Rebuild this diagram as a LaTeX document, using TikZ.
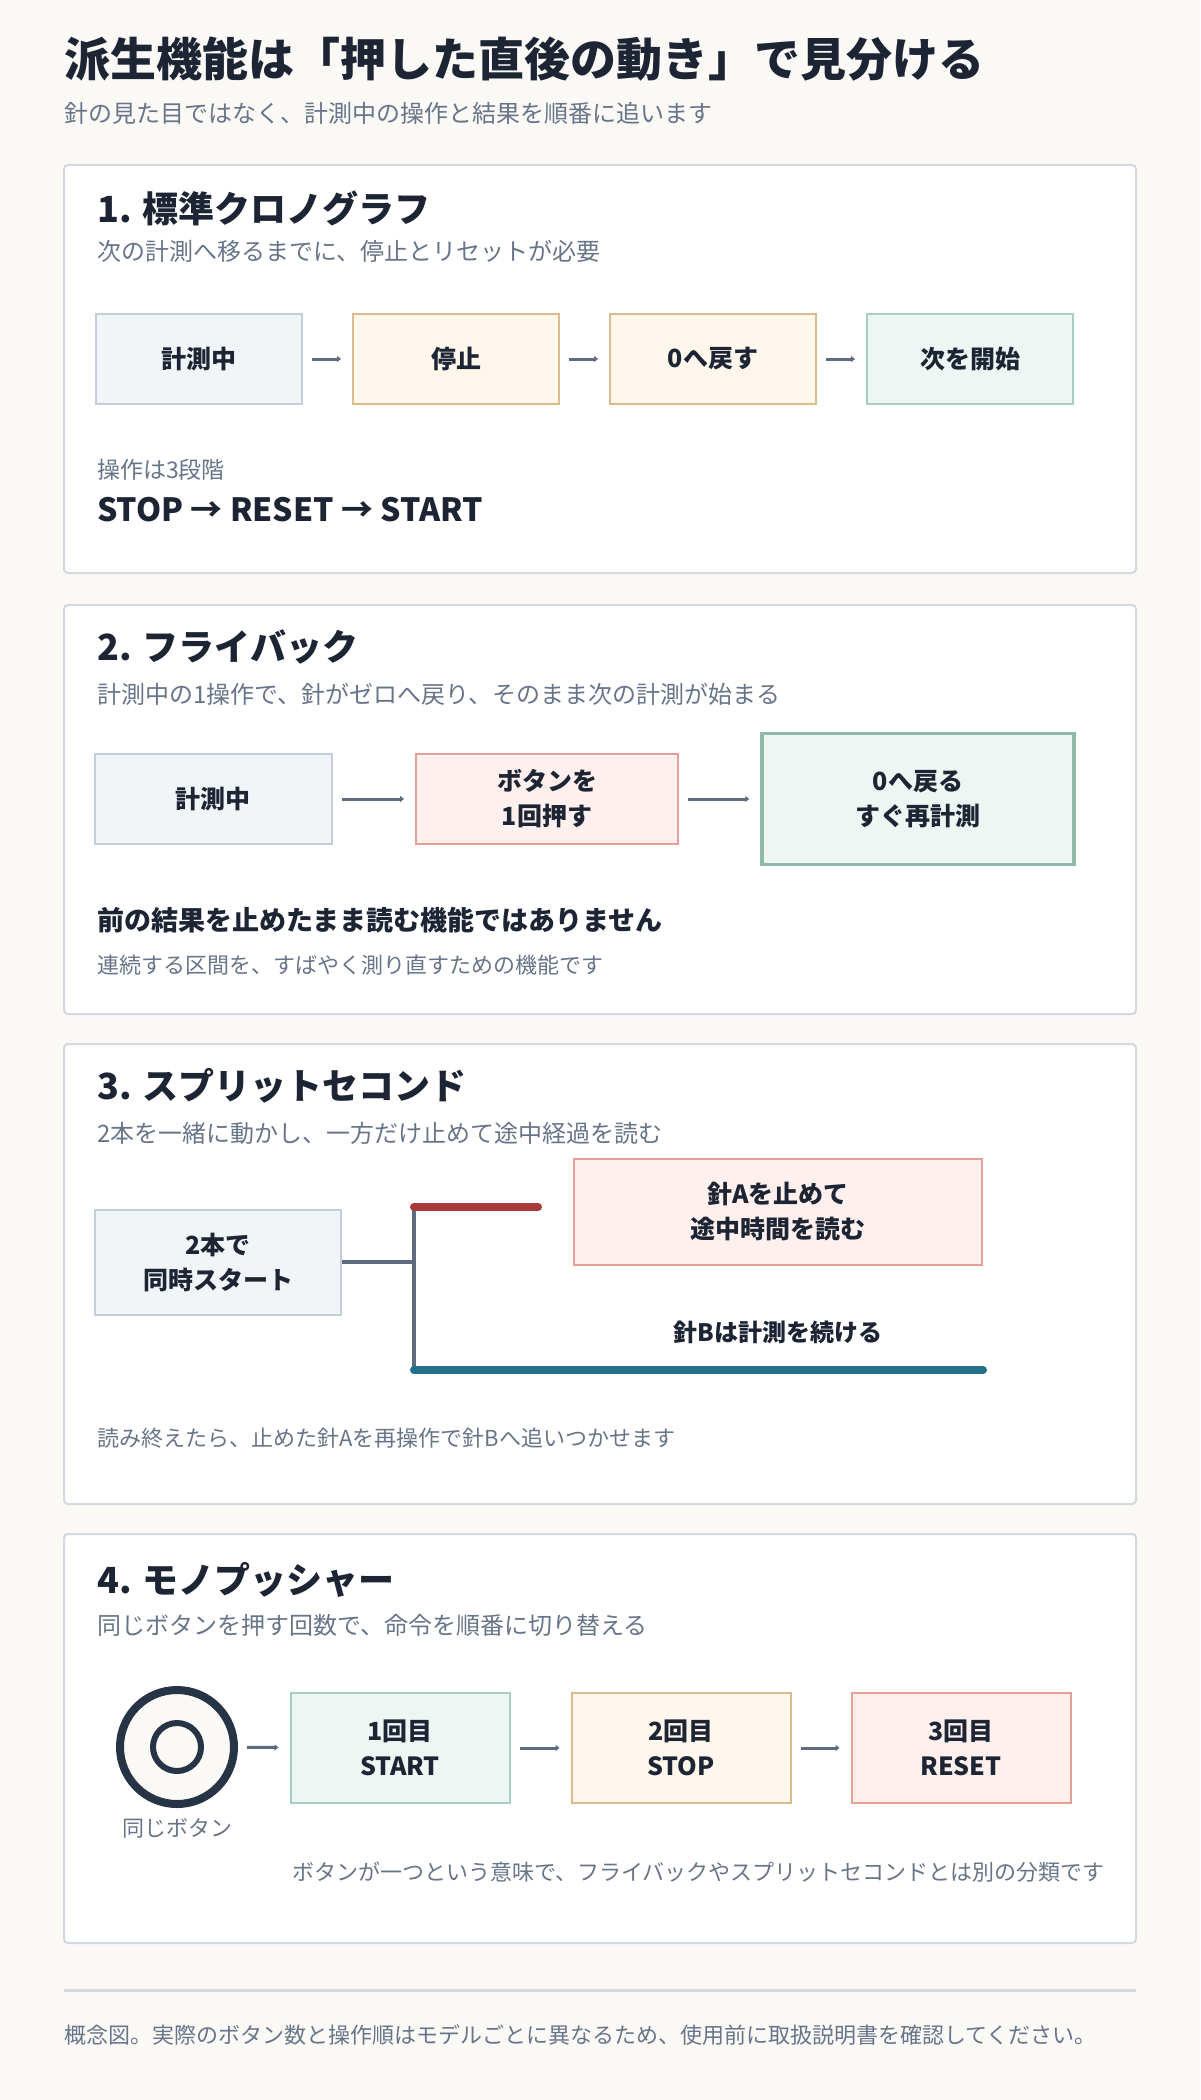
\documentclass[tikz,border=0pt]{standalone}
\usepackage{fontspec}
\setmainfont{Noto Sans CJK JP}
\usepackage{xcolor}
\usepackage{tikz}
\usetikzlibrary{arrows.meta}

\definecolor{pagebg}{HTML}{FAF9F6}
\definecolor{ink}{HTML}{1D2534}
\definecolor{muted}{HTML}{687589}
\definecolor{cardline}{HTML}{D3D9E0}
\definecolor{bluefill}{HTML}{F2F5F7}
\definecolor{blueline}{HTML}{C3CEDC}
\definecolor{sandfill}{HTML}{FFF6EC}
\definecolor{sandline}{HTML}{DDBC8B}
\definecolor{mintfill}{HTML}{EDF6F2}
\definecolor{mintline}{HTML}{A6CFBF}
\definecolor{mintdark}{HTML}{8FBAA8}
\definecolor{rosefill}{HTML}{FFF0EE}
\definecolor{roseline}{HTML}{E3A097}
\definecolor{arrowc}{HTML}{5E6B80}
\definecolor{stopred}{HTML}{A83B3A}
\definecolor{runteal}{HTML}{23708A}
\definecolor{knobc}{HTML}{263445}

\tikzset{
  card/.style={draw=cardline, line width=2pt, fill=white, rounded corners=4pt},
  headline/.style={anchor=west, inner sep=0pt, text=ink, font=\bfseries\fontsize{36}{42}\selectfont},
  lede/.style={anchor=west, inner sep=0pt, text=muted, font=\fontsize{24}{28}\selectfont},
  note/.style={anchor=west, inner sep=0pt, text=muted, font=\fontsize{22}{26}\selectfont},
  flowbox/.style={draw, line width=2pt, inner sep=0pt, align=center, text=ink,
    font=\bfseries\fontsize{25}{35}\selectfont},
  bluebox/.style={flowbox, draw=blueline, fill=bluefill},
  sandbox/.style={flowbox, draw=sandline, fill=sandfill},
  mintbox/.style={flowbox, draw=mintline, fill=mintfill},
  rosebox/.style={flowbox, draw=roseline, fill=rosefill},
  flow/.style={draw=arrowc, line width=3pt, -{Triangle[length=4pt,width=6pt]},
    shorten <=9pt, shorten >=11pt},
  trunk/.style={draw=arrowc, line width=3.5pt},
  hand/.style={line width=8pt, line cap=round}
}

\begin{document}
\begin{tikzpicture}[x=1pt,y=-1pt]
\fill[pagebg] (0,0) rectangle (1200,2100);
\useasboundingbox (0,0) rectangle (1200,2100);

% Title
\node[anchor=west, inner sep=0pt, text=ink, font=\bfseries\fontsize{46}{54}\selectfont] (title) at (64,59) {派生機能は「押した直後の動き」で見分ける};
\node[lede] (subtitle) at (64,113) {針の見た目ではなく、計測中の操作と結果を順番に追います};

% Cards
\draw[card] (64,165) rectangle (1136,573);
\draw[card] (64,605) rectangle (1136,1014);
\draw[card] (64,1044) rectangle (1136,1504);
\draw[card] (64,1534) rectangle (1136,1943);

% 1. standard chronograph
\node[headline] (head1) at (97,208) {1. 標準クロノグラフ};
\node[lede] (desc1) at (97,251) {次の計測へ移るまでに、停止とリセットが必要};
\foreach \name/\x/\kind/\txt in {run1/199/bluebox/計測中, halt1/456/sandbox/停止, zero1/713/sandbox/0へ戻す, again1/970/mintbox/次を開始} {
    \node[\kind, minimum width=206pt, minimum height=90pt] (\name) at (\x,359) {\txt};
}
\foreach \a/\b in {run1/halt1, halt1/zero1, zero1/again1} {
    \draw[flow] (\a) -- (\b);
}
\node[note, font=\fontsize{23}{27}\selectfont] (steps1) at (97,470) {操作は3段階};
\node[anchor=west, inner sep=0pt, text=ink, font=\bfseries\fontsize{32}{38}\selectfont] (order1) at (97,510) {STOP → RESET → START};

% 2. flyback
\node[headline] (head2) at (97,647) {2. フライバック};
\node[lede] (desc2) at (97,694) {計測中の1操作で、針がゼロへ戻り、そのまま次の計測が始まる};
\node[bluebox, minimum width=237pt, minimum height=90pt] (run2) at (213,799) {計測中};
\node[rosebox, minimum width=262pt, minimum height=90pt] (press2) at (547,799) {ボタンを\\1回押す};
\node[mintbox, draw=mintdark, line width=3.5pt, minimum width=312pt, minimum height=131pt] (reset2) at (918,799) {0へ戻る\\すぐ再計測};
\draw[flow] (run2) -- (press2);
\draw[flow] (press2) -- (reset2);
\node[anchor=west, inner sep=0pt, text=ink, font=\bfseries\fontsize{27}{31}\selectfont] (warn2) at (97,920) {前の結果を止めたまま読む機能ではありません};
\node[note] (hint2) at (97,965) {連続する区間を、すばやく測り直すための機能です};

% 3. split seconds
\node[headline] (head3) at (97,1086) {3. スプリットセコンド};
\node[lede] (desc3) at (97,1133) {2本を一緒に動かし、一方だけ止めて途中経過を読む};
\node[bluebox, minimum width=246pt, minimum height=105pt] (both3) at (218,1262) {2本で\\同時スタート};
\node[rosebox, minimum width=408pt, minimum height=106pt] (readA3) at (778,1212) {針Aを止めて\\途中時間を読む};
\coordinate (split) at (414,1262);
\coordinate (topA) at (414,1207);
\coordinate (botB) at (414,1370);
\coordinate (endA) at (538,1207);
\coordinate (endB) at (983,1370);
\draw[trunk] (both3) -- (split);
\draw[trunk] (topA) -- (botB);
\draw[hand, stopred] (topA) -- (endA);
\draw[hand, runteal] (botB) -- (endB);
\node[inner sep=0pt, text=ink, font=\bfseries\fontsize{24}{28}\selectfont] (keepB3) at (778,1332) {針Bは計測を続ける};
\node[note] (hint3) at (97,1438) {読み終えたら、止めた針Aを再操作で針Bへ追いつかせます};

% 4. mono-pusher
\node[headline] (head4) at (97,1580) {4. モノプッシャー};
\node[lede] (desc4) at (97,1625) {同じボタンを押す回数で、命令を順番に切り替える};
\node[circle, draw=knobc, line width=8pt, fill=pagebg, minimum size=114pt] (knob) at (177,1747) {};
\draw[knobc, line width=6pt] (knob.center) circle (24pt);
\node[note, anchor=center] (knoblabel) at (177,1828) {同じボタン};
\foreach \name/\x/\kind/\txt in {first4/400/mintbox/1回目\\START, second4/681/sandbox/2回目\\STOP, third4/961/rosebox/3回目\\RESET} {
    \node[\kind, minimum width=219pt, minimum height=110pt] (\name) at (\x,1748) {\txt};
}
\foreach \a/\b in {knob/first4, first4/second4, second4/third4} {
    \draw[flow] (\a) -- (\b);
}
\node[note] (hint4) at (292,1872) {ボタンが一つという意味で、フライバックやスプリットセコンドとは別の分類です};

% Footer
\draw[cardline, line width=3pt] (64,1990) -- (1136,1990);
\node[note] (footer) at (64,2035) {概念図。実際のボタン数と操作順はモデルごとに異なるため、使用前に取扱説明書を確認してください。};
\end{tikzpicture}
\end{document}
